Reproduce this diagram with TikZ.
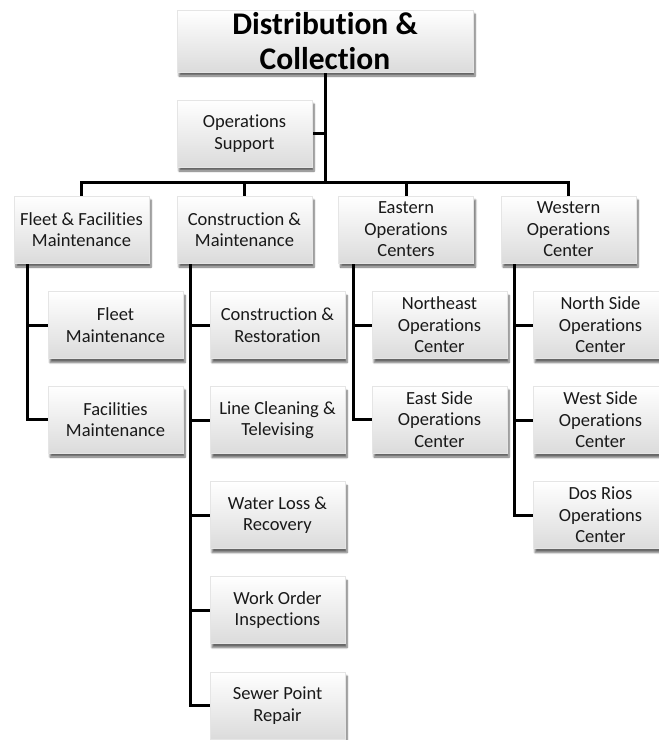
\documentclass[tikz,border=0pt]{standalone}
\usepackage{fontspec}
\setmainfont[Ligatures=NoCommon]{Carlito}
\usetikzlibrary{shadows.blur,backgrounds}
\begin{document}
\begin{tikzpicture}[x=1pt,y=-1pt,
  box/.style={rectangle, draw=black!10, line width=0.4pt, top color=white, bottom color=black!14,
    minimum width=135pt, minimum height=67pt, inner sep=2pt, align=center, text=black!90,
    font=\fontsize{18.5}{21.5}\selectfont,
    blur shadow={shadow xshift=2pt, shadow yshift=-4pt, shadow blur steps=6, shadow opacity=60}},
  titlebox/.style={box, minimum width=296pt, minimum height=62pt, inner sep=0pt},
  titletext/.style={inner sep=0pt, align=center, text=black,
    font=\bfseries\fontsize{31.5}{35}\selectfont},
  conn/.style={line width=3pt, black}]
\useasboundingbox (0,0) rectangle (659,740);
\clip (0,0) rectangle (659,740);
% nodes
\node[titlebox] (top) at (325,41) {};
\node[titletext] (toptext) at (325,41.5) {Distribution \&\\Collection};
\node[box] (ops) at (244.5,133.5) {Operations\\Support};
\node[box] (fleet) at (81.5,229.5) {Fleet \& Facilities\\Maintenance};
\node[box] (cm) at (244.5,229.5) {Construction \&\\Maintenance};
\node[box] (east) at (406,229.5) {Eastern\\Operations\\Centers};
\node[box] (west) at (568.5,229.5) {Western\\Operations\\Center};
\node[box] (fleetm) at (115.5,325) {Fleet\\Maintenance};
\node[box] (facm) at (115.5,419.5) {Facilities\\Maintenance};
\node[box] (cr) at (277.5,325) {Construction \&\\Restoration};
\node[box] (lc) at (277.5,420) {Line Cleaning \&\\Televising};
\node[box] (wl) at (277.5,515) {Water Loss \&\\Recovery};
\node[box] (wo) at (277.5,610) {Work Order\\Inspections};
\node[box] (sp) at (277.5,705.5) {Sewer Point\\Repair};
\node[box] (ne) at (439.5,325) {Northeast\\Operations\\Center};
\node[box] (es) at (439.5,419.5) {East Side\\Operations\\Center};
\node[box] (ns) at (600.5,325) {North Side\\Operations\\Center};
\node[box] (ws) at (600.5,420) {West Side\\Operations\\Center};
\node[box] (dr) at (600.5,515) {Dos Rios\\Operations\\Center};
% connectors
\begin{pgfonlayer}{background}
\coordinate (bar) at (0,182);
\draw[conn] (top.south) -- (top.south |- bar);
\draw[conn] (ops.east) -- (ops.east -| top.south);
\draw[conn] (fleet.north) -- (fleet.north |- bar) -| (west.north);
\draw[conn] (cm.north) -- (cm.north |- bar);
\draw[conn] (east.north) -- (east.north |- bar);
\coordinate (fs) at ([xshift=14pt]fleet.south west);
\coordinate (cs) at ([xshift=14pt]cm.south west);
\coordinate (es0) at ([xshift=15pt]east.south west);
\coordinate (ws0) at ([xshift=14pt]west.south west);
\draw[conn] (fs) |- (facm.west);
\draw[conn] (fs |- fleetm.west) -- (fleetm.west);
\draw[conn] (cs) |- (sp.west);
\draw[conn] (cs |- cr.west) -- (cr.west);
\draw[conn] (cs |- lc.west) -- (lc.west);
\draw[conn] (cs |- wl.west) -- (wl.west);
\draw[conn] (cs |- wo.west) -- (wo.west);
\draw[conn] (es0) |- (es.west);
\draw[conn] (es0 |- ne.west) -- (ne.west);
\draw[conn] (ws0) |- (dr.west);
\draw[conn] (ws0 |- ns.west) -- (ns.west);
\draw[conn] (ws0 |- ws.west) -- (ws.west);
\end{pgfonlayer}
\end{tikzpicture}
\end{document}
